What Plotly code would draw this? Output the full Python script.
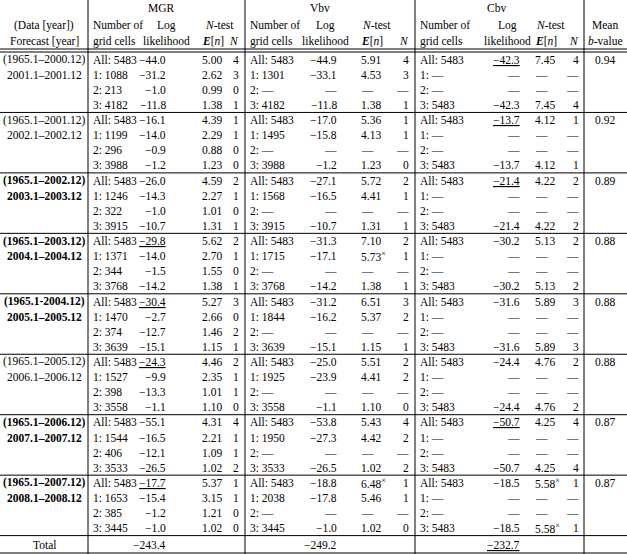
import plotly.graph_objects as go

# ---------------- data ----------------
data_periods = ["(1965.1–2000.12)", "(1965.1–2001.12)", "(1965.1–2002.12)", "(1965.1–2003.12)",
                "(1965.1-2004.12)", "(1965.1–2005.12)", "(1965.1–2006.12)", "(1965.1–2007.12)"]
forecast_periods = ["2001.1–2001.12", "2002.1–2002.12", "2003.1–2003.12", "2004.1–2004.12",
                    "2005.1–2005.12", "2006.1–2006.12", "2007.1–2007.12", "2008.1–2008.12"]
bold_groups = [False, False, True, True, True, False, True, True]
region_labels = ["All", "1", "2", "3"]

mgr_cells = [[5483, 1088, 213, 4182], [5483, 1199, 296, 3988], [5483, 1246, 322, 3915],
             [5483, 1371, 344, 3768], [5483, 1470, 374, 3639], [5483, 1527, 398, 3558],
             [5483, 1544, 406, 3533], [5483, 1653, 385, 3445]]
mgr_loglik = [[-44.0, -31.2, -1.0, -11.8], [-16.1, -14.0, -0.9, -1.2], [-26.0, -14.3, -1.0, -10.7],
              [-29.8, -14.0, -1.5, -14.2], [-30.4, -2.7, -12.7, -15.1], [-24.3, -9.9, -13.3, -1.1],
              [-55.1, -16.5, -12.1, -26.5], [-17.7, -15.4, -1.2, -1.0]]
mgr_en = [[5.00, 2.62, 0.99, 1.38], [4.39, 2.29, 0.88, 1.23], [4.59, 2.27, 1.01, 1.31],
          [5.62, 2.70, 1.55, 1.38], [5.27, 2.66, 1.46, 1.15], [4.46, 2.35, 1.01, 1.10],
          [4.31, 2.21, 1.09, 1.02], [5.37, 3.15, 1.21, 1.02]]
mgr_n = [[4, 3, 0, 1], [1, 1, 0, 0], [2, 1, 0, 1], [2, 1, 0, 1],
         [3, 0, 2, 1], [2, 1, 1, 0], [4, 1, 1, 2], [1, 1, 0, 0]]

vbv_cells = [[5483, 1301, None, 4182], [5483, 1495, None, 3988], [5483, 1568, None, 3915],
             [5483, 1715, None, 3768], [5483, 1844, None, 3639], [5483, 1925, None, 3558],
             [5483, 1950, None, 3533], [5483, 2038, None, 3445]]
vbv_loglik = [[-44.9, -33.1, None, -11.8], [-17.0, -15.8, None, -1.2], [-27.1, -16.5, None, -10.7],
              [-31.3, -17.1, None, -14.2], [-31.2, -16.2, None, -15.1], [-25.0, -23.9, None, -1.1],
              [-53.8, -27.3, None, -26.5], [-18.8, -17.8, None, -1.0]]
vbv_en = [[5.91, 4.53, None, 1.38], [5.36, 4.13, None, 1.23], [5.72, 4.41, None, 1.31],
          [7.10, 5.73, None, 1.38], [6.51, 5.37, None, 1.15], [5.51, 4.41, None, 1.10],
          [5.43, 4.42, None, 1.02], [6.48, 5.46, None, 1.02]]
vbv_n = [[4, 3, None, 1], [1, 1, None, 0], [2, 1, None, 1], [2, 1, None, 1],
         [3, 2, None, 1], [2, 2, None, 0], [4, 2, None, 2], [1, 1, None, 0]]

cbv_cells = [[5483, None, None, 5483]] * 8
cbv_loglik = [[-42.3, None, None, -42.3], [-13.7, None, None, -13.7], [-21.4, None, None, -21.4],
              [-30.2, None, None, -30.2], [-31.6, None, None, -31.6], [-24.4, None, None, -24.4],
              [-50.7, None, None, -50.7], [-18.5, None, None, -18.5]]
cbv_en = [[7.45, None, None, 7.45], [4.12, None, None, 4.12], [4.22, None, None, 4.22],
          [5.13, None, None, 5.13], [5.89, None, None, 5.89], [4.76, None, None, 4.76],
          [4.25, None, None, 4.25], [5.58, None, None, 5.58]]
cbv_n = [[4, None, None, 4], [1, None, None, 1], [2, None, None, 2], [2, None, None, 2],
         [3, None, None, 3], [2, None, None, 2], [4, None, None, 4], [1, None, None, 1]]

mean_b = [0.94, 0.92, 0.89, 0.88, 0.88, 0.88, 0.87, 0.87]

# best (underlined) log likelihood in the "All" row, by model
best_groups = {"MGR": [3, 4, 5, 7], "Vbv": [], "Cbv": [0, 1, 2, 6]}
# E[n] entries flagged with a superscript ×  (group, row)
flagged_en = {"MGR": [], "Vbv": [(3, 1), (7, 0)], "Cbv": [(7, 0), (7, 3)]}

model_names = ["MGR", "Vbv", "Cbv"]
totals = [-243.4, -249.2, -232.7]
best_total = "Cbv"

# ---------------- layout constants ----------------
W, H = 627, 554
FONT = "Liberation Serif"
FS = 11.5
VLINES = [88, 245, 415, 584]
HEADER_Y = [8, 25, 41]
HB = 52.0            # bottom of the header double rule
GROUP_H = 60.45
ROW_H = 15.1
ROW0 = 7.7

COLS = {
    "MGR": dict(cells=92, ll=167, en=201, n=240, title=161, llh=166, nt=219),
    "Vbv": dict(cells=249, ll=338, en=360, n=410, title=320, llh=325, nt=376),
    "Cbv": dict(cells=419, ll=521, en=534, n=580, title=496, llh=507, nt=550),
}
COL0 = 44
MEAN_X = 605

annotations = []


def txt(x, y, text, anchor):
    annotations.append(dict(x=x, y=y, xref="x", yref="y", text=text, showarrow=False,
                            xanchor=anchor, yanchor="middle", borderpad=0,
                            font=dict(family=FONT, size=FS, color="black")))


def fmt_signed(v, d):
    if v is None:
        return "—"
    s = f"{abs(v):.{d}f}"
    return ("−" + s) if v < 0 else s


def row_y(g, r):
    return HB + g * GROUP_H + ROW0 + r * ROW_H


# ---------------- header ----------------
txt(COL0, HEADER_Y[1], "(Data [year])", "center")
txt(COL0, HEADER_Y[2], "Forecast [year]", "center")
for m in model_names:
    c = COLS[m]
    txt(c["title"], HEADER_Y[0], m, "center")
    txt(c["cells"], HEADER_Y[1], "Number of", "left")
    txt(c["cells"], HEADER_Y[2], "grid cells", "left")
    txt(c["llh"], HEADER_Y[1], "Log", "center")
    txt(c["llh"], HEADER_Y[2], "likelihood", "center")
    txt(c["nt"], HEADER_Y[1], "<i>N</i>-test", "center")
    txt(c["en"], HEADER_Y[2], "<b><i>E</i></b>[<i>n</i>]", "left")
    txt(c["n"], HEADER_Y[2], "<i>N</i>", "right")
txt(MEAN_X, HEADER_Y[1], "Mean", "center")
txt(MEAN_X, HEADER_Y[2], "<i>b</i>-value", "center")

# ---------------- body ----------------
model_data = {
    "MGR": (mgr_cells, mgr_loglik, mgr_en, mgr_n),
    "Vbv": (vbv_cells, vbv_loglik, vbv_en, vbv_n),
    "Cbv": (cbv_cells, cbv_loglik, cbv_en, cbv_n),
}
for g in range(len(data_periods)):
    b = bold_groups[g]
    dp = f"<b>{data_periods[g]}</b>" if b else data_periods[g]
    fp = f"<b>{forecast_periods[g]}</b>" if b else forecast_periods[g]
    txt(COL0, row_y(g, 0), dp, "center")
    txt(COL0, row_y(g, 1), fp, "center")
    txt(MEAN_X, row_y(g, 0), f"{mean_b[g]:.2f}", "center")
    for m in model_names:
        c = COLS[m]
        cells, ll, en, nn = model_data[m]
        for r in range(4):
            cv = cells[g][r]
            txt(c["cells"], row_y(g, r), f"{region_labels[r]}: " + ("—" if cv is None else str(cv)), "left")
            lls = fmt_signed(ll[g][r], 1)
            if r == 0 and g in best_groups[m]:
                lls = f"<u>{lls}</u>"
            txt(c["ll"], row_y(g, r), lls, "right")
            ens = "—" if en[g][r] is None else f"{en[g][r]:.2f}"
            if (g, r) in flagged_en[m]:
                ens += "<sup>×</sup>"
            txt(c["en"], row_y(g, r), ens, "left")
            ns = "—" if nn[g][r] is None else str(nn[g][r])
            txt(c["n"], row_y(g, r), ns, "right")

# ---------------- total ----------------
ng = len(data_periods)
total_sep = HB + ng * GROUP_H
total_y = (total_sep + H) / 2
txt(COL0, total_y, "Total", "center")
for m, t in zip(model_names, totals):
    s = fmt_signed(t, 1)
    if m == best_total:
        s = f"<u>{s}</u>"
    txt(COLS[m]["ll"], total_y, s, "right")

# ---------------- rules ----------------
shapes = []
LINE = dict(color="black", width=1)
for x in VLINES:
    shapes.append(dict(type="line", xref="x", yref="y", x0=x, x1=x, y0=0, y1=H, line=LINE))
for y in (HB - 3, HB):
    shapes.append(dict(type="line", xref="x", yref="y", x0=0, x1=W, y0=y, y1=y, line=LINE))
for g in range(1, ng + 1):
    y = HB + g * GROUP_H
    shapes.append(dict(type="line", xref="x", yref="y", x0=0, x1=W, y0=y, y1=y, line=LINE))
shapes.append(dict(type="line", xref="x", yref="y", x0=0, x1=W, y0=H - 1, y1=H - 1, line=LINE))

fig = go.Figure()
fig.add_trace(go.Scatter(x=[0, W], y=[0, H], mode="markers", marker=dict(opacity=0),
                         hoverinfo="skip", showlegend=False))
fig.update_layout(
    width=W, height=H, margin=dict(l=0, r=0, t=0, b=0),
    paper_bgcolor="white", plot_bgcolor="white",
    xaxis=dict(range=[0, W], visible=False, fixedrange=True),
    yaxis=dict(range=[H, 0], visible=False, fixedrange=True),
    annotations=annotations, shapes=shapes, showlegend=False,
)
fig.write_html("out.html", config={"displayModeBar": False},
               post_script="document.body.style.margin='0';document.body.style.overflow='hidden';")
